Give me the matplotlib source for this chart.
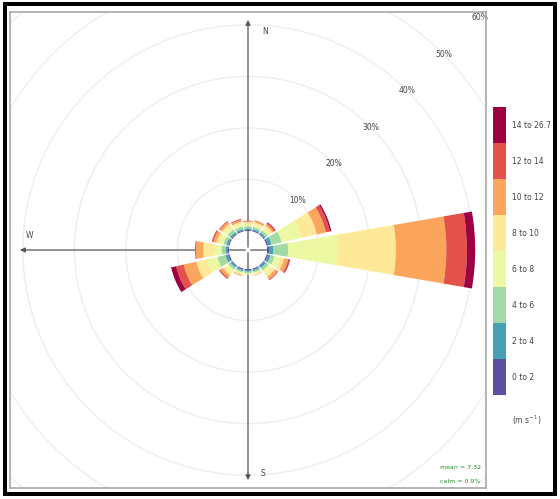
import numpy as np
import matplotlib as mpl
import matplotlib.pyplot as plt
from matplotlib.patches import Wedge, Circle, Rectangle
from matplotlib.colors import ListedColormap, BoundaryNorm

# wind directions (deg, clockwise from north)
directions = [0, 22.5, 45, 67.5, 90, 112.5, 135, 157.5,
              180, 202.5, 225, 247.5, 270, 292.5, 315, 337.5]

speed_bins = ["0 to 2", "2 to 4", "4 to 6", "6 to 8",
              "8 to 10", "10 to 12", "12 to 14", "14 to 26.7"]

# frequency (%) of each speed bin per direction
ws_0_2 = [0.2, 0.2, 0.2, 0.3, 0.4, 0.3, 0.2, 0.2, 0.2, 0.2, 0.2, 0.3, 0.2, 0.2, 0.2, 0.2]
ws_2_4 = [0.3, 0.3, 0.3, 0.7, 0.8, 0.5, 0.4, 0.3, 0.3, 0.3, 0.3, 0.5, 0.4, 0.4, 0.4, 0.3]
ws_4_6 = [0.4, 0.4, 0.5, 2.0, 2.9, 0.8, 0.6, 0.3, 0.3, 0.3, 0.5, 1.6, 0.8, 0.6, 0.6, 0.5]
ws_6_8 = [0.5, 0.5, 0.6, 4.0, 9.7, 1.0, 0.8, 0.3, 0.2, 0.3, 0.7, 2.1, 1.6, 0.8, 0.7, 0.5]
ws_8_10 = [0.3, 0.4, 0.5, 3.0, 11.2, 0.9, 0.7, 0.2, 0.1, 0.2, 0.6, 2.1, 2.0, 0.6, 0.6, 0.4]
ws_10_12 = [0.2, 0.3, 0.4, 1.8, 9.8, 0.8, 0.6, 0.1, 0.0, 0.2, 0.6, 2.5, 1.4, 0.6, 0.5, 0.4]
ws_12_14 = [0.1, 0.1, 0.3, 0.8, 4.0, 0.3, 0.2, 0.0, 0.0, 0.0, 0.3, 1.5, 0.2, 0.3, 0.2, 0.2]
ws_14_max = [0.0, 0.0, 0.1, 0.3, 1.6, 0.1, 0.0, 0.0, 0.0, 0.0, 0.0, 1.0, 0.0, 0.0, 0.0, 0.0]

mean_ws = 7.32
calm_pct = 0.9

freq = np.array([ws_0_2, ws_2_4, ws_4_6, ws_6_8, ws_8_10, ws_10_12, ws_12_14, ws_14_max])
cum = np.cumsum(freq, axis=0)

hole = 3.7        # radius of the calm circle, in % units
wedge_deg = 19.5  # angular width of each paddle
lim = 46.2
colors = plt.cm.Spectral_r(np.linspace(0, 1, len(speed_bins)))

fig = plt.figure(figsize=(5.6, 4.99), dpi=100)
ax = fig.add_axes([10 / 560, 11 / 499, 476 / 560, 476 / 499])
ax.set_xlim(-lim, lim)
ax.set_ylim(-lim, lim)
ax.set_xticks([])
ax.set_yticks([])
for sp in ax.spines.values():
    sp.set_color("#a8a8a8")
    sp.set_linewidth(1.2)

# grid circles with % labels on the NE diagonal
for k in range(1, 7):
    r = hole + 10 * k
    ax.add_patch(Circle((0, 0), r, fill=False, ec="#eeeeee", lw=1.0, zorder=1))
    ax.text(r * np.cos(np.pi / 4), r * np.sin(np.pi / 4), f"{10 * k}%",
            fontsize=5.5, color="#444444", ha="center", va="center", zorder=2)

# axis arrows
arrow = dict(arrowstyle="-|>", color="#555555", lw=0.9, mutation_scale=7)
for end in [(0, 45.2), (0, -45.2), (-44.8, 0), (44.8, 0)]:
    ax.annotate("", xy=end, xytext=(0, 0), arrowprops=arrow, zorder=2)
ax.text(3.3, 42.5, "N", fontsize=5.5, color="#444444", ha="center", va="center")
ax.text(2.9, -43.3, "S", fontsize=5.5, color="#444444", ha="center", va="center")
ax.text(-42.5, 2.9, "W", fontsize=5.5, color="#444444", ha="center", va="center")
ax.text(42.5, 2.9, "E", fontsize=5.5, color="#444444", ha="center", va="center", zorder=1)

# stacked paddles
for i in range(len(speed_bins)):
    for j, d in enumerate(directions):
        if freq[i, j] <= 0:
            continue
        r_out = hole + cum[i, j]
        r_in = r_out - freq[i, j]
        th = 90 - d
        ax.add_patch(Wedge((0, 0), r_out, th - wedge_deg / 2, th + wedge_deg / 2,
                           width=r_out - r_in, fc=colors[i], ec="none", zorder=3))

ax.text(45.2, -42.3, f"mean = {mean_ws}", fontsize=4.5, color="forestgreen",
        ha="right", va="center")
ax.text(45.2, -45.0, f"calm = {calm_pct}%", fontsize=4.5, color="forestgreen",
        ha="right", va="center")

# colour key
cax = fig.add_axes([493 / 560, 1 - 395 / 499, 13 / 560, 288 / 499])
cmap = ListedColormap(colors)
norm = BoundaryNorm(np.arange(len(speed_bins) + 1), len(speed_bins))
cb = fig.colorbar(mpl.cm.ScalarMappable(norm=norm, cmap=cmap), cax=cax,
                  ticks=np.arange(len(speed_bins)) + 0.5)
cb.set_ticklabels(speed_bins)
cb.outline.set_visible(False)
cax.minorticks_off()
cax.tick_params(which="both", length=0, labelsize=5.5, pad=4, labelcolor="#444444")
fig.text(527 / 560, 1 - 420 / 499, r"(m s$^{-1}$)", fontsize=5.5, color="#444444",
         ha="center", va="center")

fig.add_artist(Rectangle((5 / 560, 5 / 499), 550 / 560, 490 / 499,
                         transform=fig.transFigure, fill=False, ec="black", lw=2.9))

plt.savefig("out.png", dpi=100)
plt.close()
